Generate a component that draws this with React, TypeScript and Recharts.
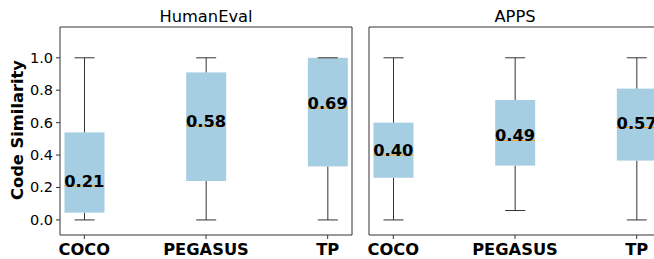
import React from 'react';
import { ComposedChart, Bar, Scatter, XAxis, YAxis, ReferenceArea, Customized } from 'recharts';

const categories = ['COCO', 'PEGASUS', 'TP'];
const positions = [1, 2, 3];
const yTicks = [0, 0.2, 0.4, 0.6, 0.8, 1.0];

// HumanEval box stats
const heMin = [0.0, 0.0, 0.0];
const heQ1 = [0.045, 0.24, 0.33];
const heMedian = [0.21, 0.58, 0.69];
const heQ3 = [0.54, 0.91, 1.0];
const heMax = [1.0, 1.0, 1.0];

// APPS box stats
const apMin = [0.0, 0.058, 0.0];
const apQ1 = [0.26, 0.335, 0.366];
const apMedian = [0.40, 0.49, 0.57];
const apQ3 = [0.60, 0.74, 0.81];
const apMax = [1.0, 1.0, 1.0];

const BOX_PX = 40;
const FONT = 'DejaVu Sans, sans-serif';
const BOX_FILL = '#a6cee3';
const LINE = '#333333';

function build(mins: number[], q1: number[], med: number[], q3: number[], maxs: number[]) {
  return categories.map((c, i) => ({
    name: c,
    pos: positions[i],
    base: mins[i],
    lw: q1[i] - mins[i],
    b1: med[i] - q1[i],
    b2: q3[i] - med[i],
    uw: maxs[i] - q3[i],
    median: med[i],
  }));
}

const heData = build(heMin, heQ1, heMedian, heQ3, heMax);
const apData = build(apMin, apQ1, apMedian, apQ3, apMax);

const LowerWhisker = (p: any) => {
  const cx = p.x + p.width / 2;
  const bottom = p.y + p.height;
  return (
    <g>
      <line x1={cx} x2={cx} y1={p.y} y2={bottom} stroke={LINE} strokeWidth={1} />
      <line x1={cx - p.width / 4} x2={cx + p.width / 4} y1={bottom} y2={bottom} stroke={LINE} strokeWidth={1} />
    </g>
  );
};

const UpperWhisker = (p: any) => {
  const cx = p.x + p.width / 2;
  return (
    <g>
      <line x1={cx} x2={cx} y1={p.y} y2={p.y + p.height} stroke={LINE} strokeWidth={1} />
      <line x1={cx - p.width / 4} x2={cx + p.width / 4} y1={p.y} y2={p.y} stroke={LINE} strokeWidth={1} />
    </g>
  );
};

const BoxPart = (p: any) => (
  <rect x={p.x} y={p.y} width={p.width} height={Math.max(0, p.height)} fill={BOX_FILL} />
);

const MedianMark = (p: any) => {
  const { cx, cy, payload } = p;
  return (
    <g>
      <line x1={cx - BOX_PX / 2} x2={cx + BOX_PX / 2} y1={cy} y2={cy} stroke="#ff9f0e" strokeWidth={1} />
      <text x={cx} y={cy + 1} textAnchor="middle" fontFamily={FONT} fontWeight="bold" fontSize={16.3} fill="#000">
        {payload.median.toFixed(2)}
      </text>
    </g>
  );
};

const XTick = (p: any) => {
  const { x, y, payload } = p;
  const idx = positions.indexOf(payload.value);
  return (
    <text x={x} y={y} dy={12} textAnchor="middle" fontFamily={FONT} fontWeight="bold" fontSize={16.3} fill="#000">
      {idx >= 0 ? categories[idx] : ''}
    </text>
  );
};

const YTick = (p: any) => {
  const { x, y, payload } = p;
  return (
    <text x={x} y={y} dy={5} textAnchor="end" fontFamily={FONT} fontSize={14.5} fill="#000">
      {Number(payload.value).toFixed(1)}
    </text>
  );
};

const YDOMAIN: [number, number] = [-0.093, 1.19];
const XDOMAIN: [number, number] = [0.8, 3.2];

function Panel({ data, title, width, yWidth, marginRight, showYLabels }: any) {
  const plotLeft = yWidth;
  const plotRight = width - marginRight;
  const titleX = (plotLeft + plotRight) / 2;
  return (
    <ComposedChart
      width={width}
      height={259}
      data={data}
      margin={{ top: 27, right: marginRight, bottom: 0, left: 0 }}
      barSize={BOX_PX}
    >
      <XAxis
        dataKey="pos"
        type="number"
        domain={XDOMAIN}
        ticks={positions}
        allowDataOverflow
        height={24}
        tickSize={4}
        tickMargin={4}
        axisLine={false}
        tickLine={{ stroke: LINE }}
        tick={<XTick />}
        interval={0}
      />
      <YAxis
        type="number"
        domain={YDOMAIN}
        ticks={yTicks}
        allowDataOverflow
        width={yWidth}
        tickSize={4}
        tickMargin={3}
        axisLine={false}
        tickLine={{ stroke: LINE }}
        tick={showYLabels ? <YTick /> : false}
        interval={0}
        label={
          showYLabels
            ? {
                content: () => (
                  <text
                    x={17.5}
                    y={130}
                    transform="rotate(-90, 17.5, 130)"
                    textAnchor="middle"
                    dominantBaseline="central"
                    fontFamily={FONT}
                    fontWeight="bold"
                    fontSize={16.3}
                    fill="#000"
                  >
                    Code Similarity
                  </text>
                ),
              }
            : undefined
        }
      />
      <Bar dataKey="base" stackId="s" fill="none" isAnimationActive={false} />
      <Bar dataKey="lw" stackId="s" shape={<LowerWhisker />} isAnimationActive={false} />
      <Bar dataKey="b1" stackId="s" shape={<BoxPart />} isAnimationActive={false} />
      <Bar dataKey="b2" stackId="s" shape={<BoxPart />} isAnimationActive={false} />
      <Bar dataKey="uw" stackId="s" shape={<UpperWhisker />} isAnimationActive={false} />
      <Scatter dataKey="median" shape={<MedianMark />} isAnimationActive={false} />
      <ReferenceArea
        x1={XDOMAIN[0]}
        x2={XDOMAIN[1]}
        y1={YDOMAIN[0]}
        y2={YDOMAIN[1]}
        fill="none"
        fillOpacity={0}
        stroke={LINE}
        strokeWidth={1}
        ifOverflow="visible"
      />
      <Customized
        component={() => (
          <text x={titleX} y={21.5} textAnchor="middle" fontFamily={FONT} fontSize={16.3} fill="#000">
            {title}
          </text>
        )}
      />
    </ComposedChart>
  );
}

export default function App() {
  return (
    <div style={{ position: 'absolute', left: 0, top: 0, width: 654, height: 259, overflow: 'hidden', background: '#fff' }}>
      <div style={{ position: 'absolute', left: 0, top: 0 }}>
        <Panel data={heData} title="HumanEval" width={360} yWidth={60} marginRight={8} showYLabels />
      </div>
      <div style={{ position: 'absolute', left: 360, top: 0 }}>
        <Panel data={apData} title="APPS" width={310} yWidth={9} marginRight={9} showYLabels={false} />
      </div>
    </div>
  );
}
